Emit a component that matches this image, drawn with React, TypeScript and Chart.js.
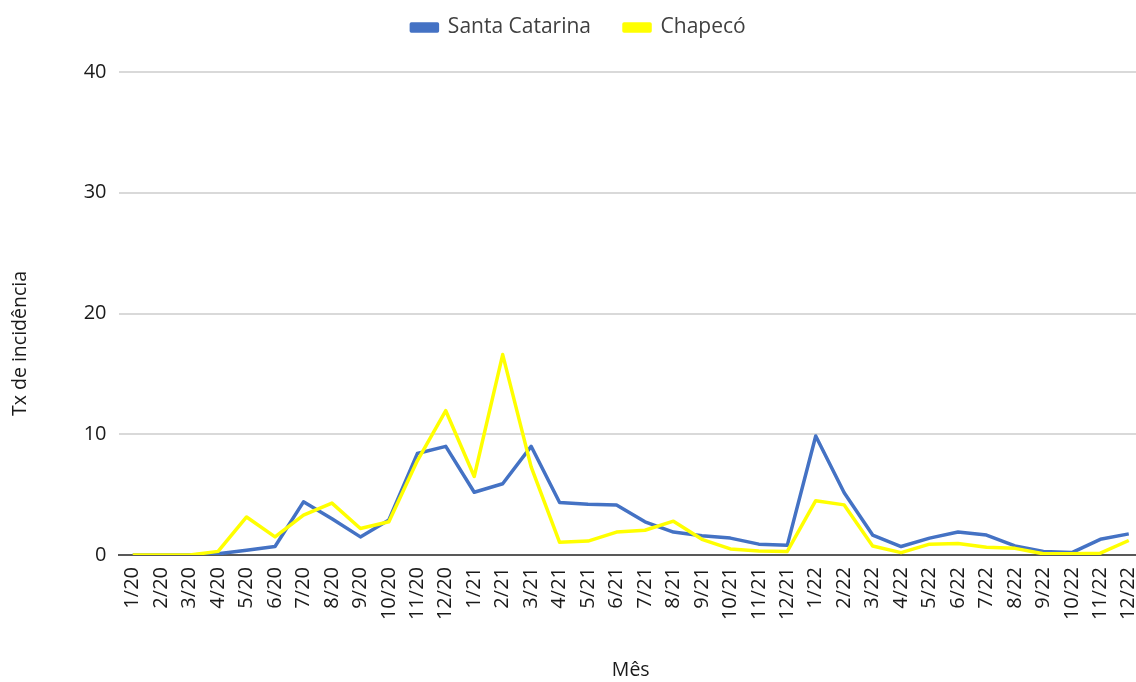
import React, { useEffect, useRef } from "react";
import { Chart, registerables } from "chart.js";

Chart.register(...registerables);

// Months, Jan 2020 to Dec 2022
const months: string[] = [
  "1/20", "2/20", "3/20", "4/20", "5/20", "6/20", "7/20", "8/20", "9/20", "10/20", "11/20", "12/20",
  "1/21", "2/21", "3/21", "4/21", "5/21", "6/21", "7/21", "8/21", "9/21", "10/21", "11/21", "12/21",
  "1/22", "2/22", "3/22", "4/22", "5/22", "6/22", "7/22", "8/22", "9/22", "10/22", "11/22", "12/22",
];

// Incidence rate, Santa Catarina
const santaCatarina: number[] = [
  0, 0, 0, 0.1, 0.4, 0.7, 4.4, 3.0, 1.5, 2.9, 8.4, 9.0,
  5.2, 5.9, 9.0, 4.35, 4.2, 4.15, 2.75, 1.9, 1.6, 1.4, 0.9, 0.8,
  9.85, 5.15, 1.65, 0.7, 1.4, 1.9, 1.65, 0.75, 0.3, 0.2, 1.3, 1.75,
];

// Incidence rate, Chapecó
const chapeco: number[] = [
  0, 0, 0, 0.3, 3.15, 1.5, 3.3, 4.3, 2.2, 2.75, 7.8, 11.95,
  6.5, 16.6, 7.3, 1.05, 1.15, 1.9, 2.05, 2.8, 1.3, 0.5, 0.33, 0.3,
  4.5, 4.15, 0.75, 0.2, 0.9, 0.95, 0.65, 0.55, 0.1, 0.1, 0.15, 1.2,
];

const yTicks: number[] = [0, 10, 20, 30, 40];

const seriesNames: string[] = ["Santa Catarina", "Chapecó"];
const seriesColors: string[] = ["#4472C4", "#FFFF00"];

const yTitle = "Tx de incidência";
const xTitle = "Mês";

const FONT = "'Open Sans', 'Noto Sans', sans-serif";
const TEXT = "#1a1a1a";

// Moves the legend row up into the top margin and nudges it right
const legendLift = {
  id: "legendLift",
  afterLayout(chart: any) {
    const lg = chart.legend;
    if (lg) {
      lg.top -= 24;
      lg.bottom -= 24;
      lg.left += 7;
      lg.right += 7;
    }
  },
};

// Vertical axis title, centred on the plot plus its month labels
const yAxisTitle = {
  id: "yAxisTitle",
  afterDraw(chart: any) {
    const { ctx, chartArea } = chart;
    const xScale = chart.scales.x;
    const cy = (chartArea.top + xScale.top + 60) / 2;
    ctx.save();
    ctx.translate(20, cy);
    ctx.rotate(-Math.PI / 2);
    ctx.font = `19.5px ${FONT}`;
    ctx.fillStyle = TEXT;
    ctx.textAlign = "center";
    ctx.textBaseline = "middle";
    ctx.fillText(yTitle, 0, 0);
    ctx.restore();
  },
};

export default function App() {
  const canvasRef = useRef<HTMLCanvasElement | null>(null);

  useEffect(() => {
    const canvas = canvasRef.current;
    if (!canvas) return;

    const chart = new Chart(canvas, {
      type: "line",
      data: {
        labels: months,
        datasets: [
          {
            label: seriesNames[0],
            data: santaCatarina,
            borderColor: seriesColors[0],
            backgroundColor: seriesColors[0],
            borderWidth: 3.5,
            pointRadius: 0,
            tension: 0,
            borderJoinStyle: "round",
            order: 1,
          },
          {
            label: seriesNames[1],
            data: chapeco,
            borderColor: seriesColors[1],
            backgroundColor: seriesColors[1],
            borderWidth: 3.5,
            pointRadius: 0,
            tension: 0,
            borderJoinStyle: "round",
            order: 0,
          },
        ],
      },
      plugins: [legendLift, yAxisTitle],
      options: {
        responsive: false,
        animation: false,
        devicePixelRatio: 1,
        layout: { padding: { top: 0, left: 0, right: 5, bottom: 0 } },
        plugins: {
          tooltip: { enabled: false },
          legend: {
            position: "top",
            align: "center",
            labels: {
              boxWidth: 26,
              boxHeight: 7,
              padding: 33,
              color: "#404040",
              font: { family: FONT, size: 21 },
              sort: (a: any, b: any) => a.datasetIndex - b.datasetIndex,
            },
          },
        },
        scales: {
          x: {
            type: "category",
            offset: true,
            grid: { display: false, drawTicks: false },
            border: { display: true, color: "#595959", width: 2 },
            ticks: {
              autoSkip: false,
              maxRotation: 90,
              minRotation: 90,
              padding: 12,
              color: TEXT,
              font: { family: FONT, size: 20 },
            },
            title: {
              display: true,
              text: xTitle,
              color: TEXT,
              padding: 0,
              font: { family: FONT, size: 19.5 },
            },
            afterFit: (scale: any) => {
              scale.height = 127;
              scale.paddingLeft = 0;
              scale.paddingRight = 0;
            },
          },
          y: {
            min: 0,
            max: 40,
            afterBuildTicks: (scale: any) => {
              scale.ticks = yTicks.map((v) => ({ value: v }));
            },
            grid: { color: "#d9d9d9", lineWidth: 2, drawTicks: false },
            border: { display: false },
            ticks: {
              padding: 12,
              color: TEXT,
              font: { family: FONT, size: 20 },
            },
            title: { display: false },
            afterFit: (scale: any) => {
              scale.width = 118.5;
              scale.paddingTop = 72;
            },
          },
        },
      },
    });

    return () => chart.destroy();
  }, []);

  return (
    <div
      style={{
        position: "fixed",
        left: 0,
        top: 0,
        width: 1136,
        height: 682,
        overflow: "hidden",
        background: "#ffffff",
      }}
    >
      <canvas ref={canvasRef} width={1148} height={682} style={{ display: "block" }} />
    </div>
  );
}
